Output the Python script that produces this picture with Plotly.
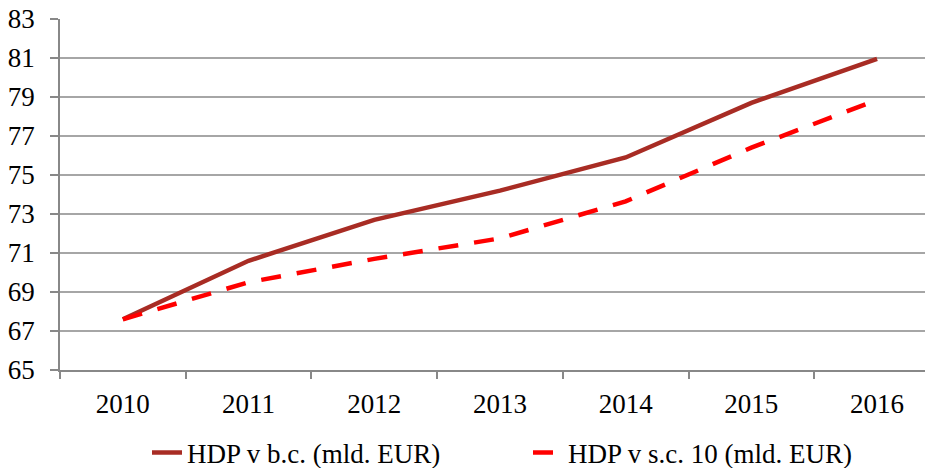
import plotly.graph_objects as go

years = ["2010", "2011", "2012", "2013", "2014", "2015", "2016"]
hdp_bc = [67.6, 70.6, 72.7, 74.2, 75.9, 78.7, 80.95]
hdp_sc10 = [67.6, 69.5, 70.7, 71.75, 73.65, 76.4, 78.85]
y_ticks = [65, 67, 69, 71, 73, 75, 77, 79, 81, 83]

name_bc = "HDP v b.c. (mld. EUR)"
name_sc = "HDP v s.c. 10 (mld. EUR)"

font = dict(family="Liberation Serif, Times New Roman, serif", size=27, color="#000000")

fig = go.Figure()
fig.add_trace(go.Scatter(x=years, y=hdp_bc, mode="lines", name=name_bc,
                         line=dict(color="#A82C24", width=4.5)))
fig.add_trace(go.Scatter(x=years, y=hdp_sc10, mode="lines", name=name_sc,
                         line=dict(color="#FF0000", width=4.5, dash="20px,16px")))

# page body has an 8px margin; compensate so the plot lands where the reference has it
fig.update_layout(
    width=925, height=460,
    margin=dict(l=52, r=0, t=11, b=98, autoexpand=False),
    paper_bgcolor="white", plot_bgcolor="white",
    font=font,
    showlegend=True,
    legend=dict(orientation="h", x=(139 - 52) / 873, xanchor="left", y=-0.236, yanchor="middle",
                font=font, entrywidth=336, entrywidthmode="pixels", traceorder="normal",
                bgcolor="rgba(0,0,0,0)"),
)
fig.update_xaxes(
    type="category", range=[-0.5, 6.445], automargin=False,
    showgrid=False, showline=True, linecolor="#888888", linewidth=1.5,
    ticks="outside", tickson="boundaries", ticklen=7, tickcolor="#888888", tickwidth=1.5,
    tickfont=font, ticklabelstandoff=9, ticklabeloverflow="allow",
)
fig.update_yaxes(
    range=[65, 83], tickvals=y_ticks, ticktext=[str(v) for v in y_ticks], automargin=False,
    showgrid=True, gridcolor="#A6A6A6", gridwidth=1.5,
    showline=True, linecolor="#888888", linewidth=1.5,
    ticks="outside", ticklen=8, tickcolor="#888888", tickwidth=1.5,
    tickfont=font, zeroline=False, ticklabelstandoff=10, ticklabeloverflow="allow",
)

fig.write_html("out.html")
